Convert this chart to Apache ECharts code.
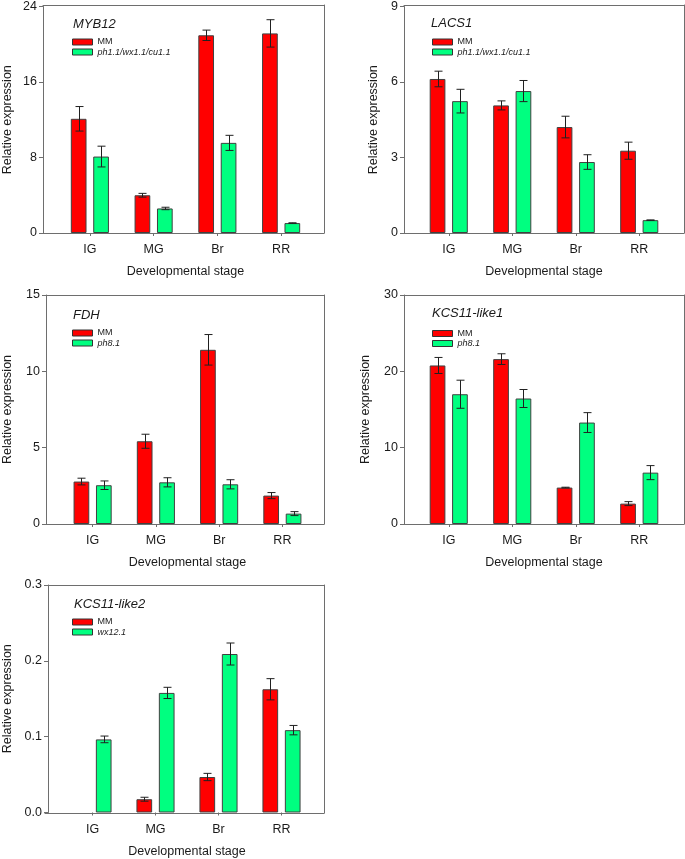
<!DOCTYPE html>
<html>
<head>
<meta charset="utf-8">
<script src="https://cdn.jsdelivr.net/npm/echarts@6/dist/echarts.min.js"></script>
<style>
html,body{margin:0;padding:0;background:#fff;}
#chart{width:685px;height:859px;}
</style>
</head>
<body>
<div id="chart"></div>
<script>
// ---------- data ----------
const categories = ['IG', 'MG', 'Br', 'RR'];

const myb12MM = [12.1, 4.0, 20.95, 21.15];
const myb12MMErr = [1.3, 0.2, 0.55, 1.45];
const myb12Mut = [8.1, 2.6, 9.55, 1.05];
const myb12MutErr = [1.1, 0.13, 0.8, 0.03];

const lacs1MM = [6.12, 5.07, 4.21, 3.27];
const lacs1MMErr = [0.31, 0.18, 0.43, 0.34];
const lacs1Mut = [5.24, 5.64, 2.82, 0.51];
const lacs1MutErr = [0.47, 0.42, 0.29, 0.01];

const fdhMM = [2.78, 5.42, 11.41, 1.86];
const fdhMMErr = [0.22, 0.46, 1.0, 0.2];
const fdhMut = [2.54, 2.73, 2.6, 0.68];
const fdhMutErr = [0.28, 0.3, 0.3, 0.13];

const kcs1MM = [20.77, 21.6, 4.77, 2.67];
const kcs1MMErr = [1.05, 0.7, 0.05, 0.26];
const kcs1Mut = [17.0, 16.44, 13.29, 6.73];
const kcs1MutErr = [1.84, 1.18, 1.3, 0.92];

const kcs2MM = [0, 0.0175, 0.0468, 0.1625];
const kcs2MMErr = [0, 0.0026, 0.0048, 0.014];
const kcs2Mut = [0.0964, 0.1577, 0.209, 0.1086];
const kcs2MutErr = [0.0044, 0.0074, 0.0145, 0.0062];

const yTicksMYB12 = [0, 8, 16, 24];
const yTicksLACS1 = [0, 3, 6, 9];
const yTicksFDH = [0, 5, 10, 15];
const yTicksKCS1 = [0, 10, 20, 30];
const yTicksKCS2 = [0, 0.1, 0.2, 0.3];

const panels = [
  {gene: 'MYB12', mut: 'ph1.1/wx1.1/cu1.1', mm: myb12MM, mmErr: myb12MMErr, mt: myb12Mut, mtErr: myb12MutErr, ticks: yTicksMYB12, dec: 0,
   L: 43, T: 5, R: 324, B: 233, bL: 58, bR: 313, nameGap: 29, titleX: 73, titleY: 17.5, legX: 72, legY: 37},
  {gene: 'LACS1', mut: 'ph1.1/wx1.1/cu1.1', mm: lacs1MM, mmErr: lacs1MMErr, mt: lacs1Mut, mtErr: lacs1MutErr, ticks: yTicksLACS1, dec: 0,
   L: 404, T: 5, R: 684, B: 233, bL: 417, bR: 671, nameGap: 24, titleX: 431, titleY: 16.5, legX: 432, legY: 37},
  {gene: 'FDH', mut: 'ph8.1', mm: fdhMM, mmErr: fdhMMErr, mt: fdhMut, mtErr: fdhMutErr, ticks: yTicksFDH, dec: 0,
   L: 45, T: 295, R: 324, B: 524, bL: 60, bR: 314, nameGap: 32, titleX: 73, titleY: 308.5, legX: 72, legY: 328},
  {gene: 'KCS11-like1', mut: 'ph8.1', mm: kcs1MM, mmErr: kcs1MMErr, mt: kcs1Mut, mtErr: kcs1MutErr, ticks: yTicksKCS1, dec: 0,
   L: 404, T: 295, R: 684, B: 524, bL: 417, bR: 671, nameGap: 32, titleX: 432, titleY: 307, legX: 432, legY: 328.5},
  {gene: 'KCS11-like2', mut: 'wx12.1', mm: kcs2MM, mmErr: kcs2MMErr, mt: kcs2Mut, mtErr: kcs2MutErr, ticks: yTicksKCS2, dec: 1,
   L: 45, T: 585, R: 324, B: 813, bL: 58, bR: 313, nameGap: 34, titleX: 74, titleY: 598, legX: 72, legY: 617}
];

// ---------- styles ----------
const FONT = 'Liberation Sans, Arial, sans-serif';
const RED = '#FF0000';
const GREEN = '#00FF80';
const BAR_BORDER = '#404040';
const FRAME = '#6e6e6e';
const TXT = '#1a1a1a';
const BAR_W = 15.7;
const BAR_GAP_PX = 6.7;
const BAR_OFF = (BAR_W + BAR_GAP_PX) / 2;
const CAP = 4;

function errRender(sign) {
  return function (params, api) {
    const cat = api.value(0), v = api.value(1), e = api.value(2);
    if (!(e > 0)) return null;
    const top = api.coord([cat, v + e]);
    const bot = api.coord([cat, v - e]);
    const x = Math.round(top[0] + sign * BAR_OFF) + 0.5;
    const st = {stroke: '#202020', lineWidth: 1};
    return {
      type: 'group',
      children: [
        {type: 'line', shape: {x1: x, y1: top[1], x2: x, y2: bot[1]}, style: st},
        {type: 'line', shape: {x1: x - CAP, y1: top[1], x2: x + CAP, y2: top[1]}, style: st},
        {type: 'line', shape: {x1: x - CAP, y1: bot[1], x2: x + CAP, y2: bot[1]}, style: st}
      ]
    };
  };
}

// zero-valued bars get no outline (nothing visible in the reference)
const barData = arr => arr.map(v => v === 0 ? {value: 0, itemStyle: {borderWidth: 0}} : v);

const grid = [], xAxis = [], yAxis = [], series = [], title = [], legend = [];
const lineOnly = {
  type: 'value', min: 0, max: 1, axisLabel: {show: false}, axisTick: {show: false},
  splitLine: {show: false}, axisLine: {show: true, onZero: false, lineStyle: {color: FRAME, width: 1}}
};

panels.forEach((p, i) => {
  grid.push({left: p.bL, top: p.T, width: p.bR - p.bL, height: p.B - p.T, containLabel: false});
  xAxis.push({
    type: 'category', gridIndex: i, data: categories,
    axisLine: {show: false},
    axisTick: {show: true, alignWithLabel: true, length: 3, lineStyle: {color: FRAME}},
    axisLabel: {color: TXT, fontSize: 12.5, fontFamily: FONT, margin: 10.5},
    name: 'Developmental stage', nameLocation: 'middle', nameGap: 32.5,
    nameTextStyle: {color: TXT, fontSize: 12.5, fontFamily: FONT}
  });
  const step = p.ticks[1] - p.ticks[0];
  yAxis.push({
    type: 'value', gridIndex: i, min: p.ticks[0], max: p.ticks[p.ticks.length - 1], interval: step,
    offset: p.bL - p.L,
    splitLine: {show: false},
    axisLine: {show: true, lineStyle: {color: FRAME, width: 1}},
    axisTick: {show: true, length: 4, lineStyle: {color: FRAME}},
    axisLabel: {color: TXT, fontSize: 12.5, fontFamily: FONT, margin: 6,
      formatter: v => v.toFixed(p.dec)},
    name: 'Relative expression', nameLocation: 'middle', nameGap: p.nameGap,
    nameTextStyle: {color: TXT, fontSize: 12.5, fontFamily: FONT}
  });
  series.push({
    type: 'bar', name: 'MM', xAxisIndex: i, yAxisIndex: i, data: barData(p.mm),
    barWidth: BAR_W, barGap: (BAR_GAP_PX / BAR_W * 100).toFixed(1) + '%',
    itemStyle: {color: RED, borderColor: BAR_BORDER, borderWidth: 1}, z: 2
  });
  series.push({
    type: 'bar', name: p.mut, xAxisIndex: i, yAxisIndex: i, data: barData(p.mt),
    barWidth: BAR_W, barGap: (BAR_GAP_PX / BAR_W * 100).toFixed(1) + '%',
    itemStyle: {color: GREEN, borderColor: BAR_BORDER, borderWidth: 1}, z: 2
  });
  series.push({
    type: 'custom', xAxisIndex: i, yAxisIndex: i, renderItem: errRender(-1), z: 5,
    data: p.mm.map((v, k) => [k, v, p.mmErr[k]]), silent: true
  });
  series.push({
    type: 'custom', xAxisIndex: i, yAxisIndex: i, renderItem: errRender(1), z: 5,
    data: p.mt.map((v, k) => [k, v, p.mtErr[k]]), silent: true
  });
  title.push({
    text: p.gene, left: p.titleX, top: p.titleY, padding: 0,
    textStyle: {fontStyle: 'italic', fontWeight: 'normal', fontSize: 13, color: TXT, fontFamily: FONT}
  });
  legend.push({
    orient: 'vertical', left: p.legX, top: p.legY, padding: 0, itemGap: 0,
    itemWidth: 20, itemHeight: 6, icon: 'rect', selectedMode: false,
    data: ['MM', p.mut],
    itemStyle: {borderColor: '#333', borderWidth: 1},
    formatter: n => n === 'MM' ? n : '{i|' + n + '}',
    textStyle: {fontSize: 9, lineHeight: 10, color: TXT, fontFamily: FONT,
      rich: {i: {fontStyle: 'italic', fontSize: 9, lineHeight: 10, color: TXT, fontFamily: FONT}}}
  });
});

// frame grids: bottom, top and right lines (left line is the y axis)
panels.forEach((p, i) => {
  const g = 5 + i;
  grid.push({left: p.L, top: p.T, width: p.R - p.L, height: p.B - p.T});
  xAxis.push(Object.assign({}, lineOnly, {gridIndex: g, position: 'bottom'}));
  xAxis.push(Object.assign({}, lineOnly, {gridIndex: g, position: 'top'}));
  yAxis.push(Object.assign({}, lineOnly, {gridIndex: g, position: 'right'}));
});

const chart = echarts.init(document.getElementById('chart'), null, {renderer: 'canvas'});
chart.setOption({
  animation: false,
  backgroundColor: '#ffffff',
  title, legend, grid, xAxis, yAxis, series
});
</script>
</body>
</html>
